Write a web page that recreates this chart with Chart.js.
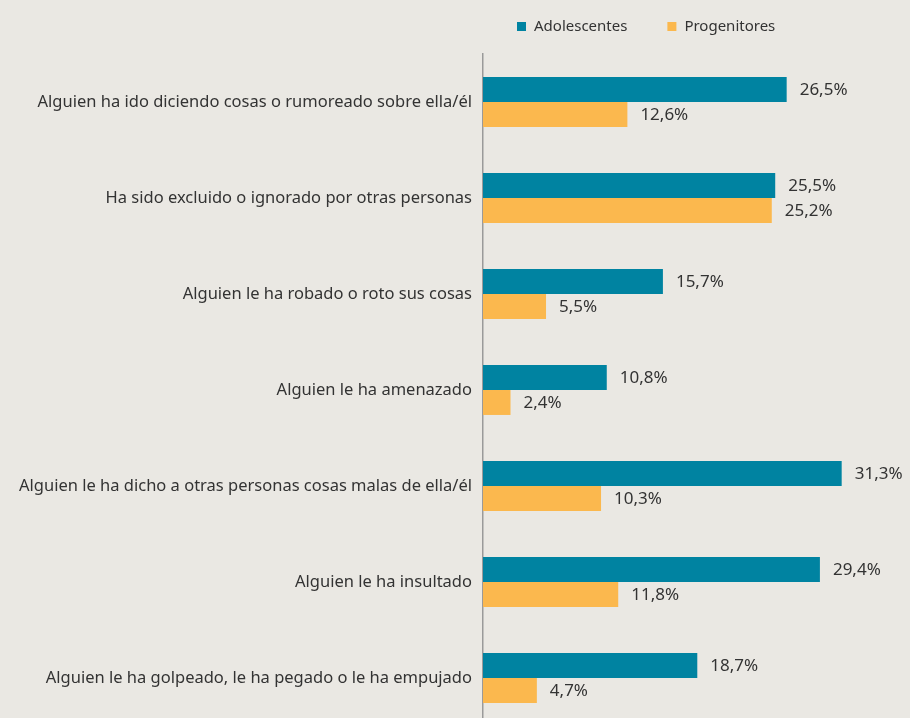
<!DOCTYPE html>
<html>
<head>
<meta charset="utf-8">
<script src="https://cdn.jsdelivr.net/npm/chart.js@4"></script>
<style>
  html, body { margin: 0; padding: 0; background: #eae8e3; overflow: hidden; }
  #wrap { width: 910px; height: 718px; overflow: hidden; }
  #box { position: relative; width: 910px; height: 730px; }
</style>
</head>
<body>
<div id="wrap"><div id="box"><canvas id="chart"></canvas></div></div>
<script>
// categories and series
const categories = [
    "Alguien ha ido diciendo cosas o rumoreado sobre ella/él",
    "Ha sido excluido o ignorado por otras personas",
    "Alguien le ha robado o roto sus cosas",
    "Alguien le ha amenazado",
    "Alguien le ha dicho a otras personas cosas malas de ella/él",
    "Alguien le ha insultado",
    "Alguien le ha golpeado, le ha pegado o le ha empujado"
];
const adolescentes = [26.5, 25.5, 15.7, 10.8, 31.3, 29.4, 18.7];
const progenitores = [12.6, 25.2, 5.5, 2.4, 10.3, 11.8, 4.7];

const fontFamily = "'Noto Sans', 'Open Sans', sans-serif";
const textColor = "#333333";

// value labels at the end of each bar
const valueLabels = {
    id: "valueLabels",
    afterDatasetsDraw(chart) {
        const ctx = chart.ctx;
        ctx.save();
        ctx.font = "17px " + fontFamily;
        ctx.fillStyle = textColor;
        ctx.textAlign = "left";
        ctx.textBaseline = "middle";
        chart.data.datasets.forEach(function (ds, i) {
            chart.getDatasetMeta(i).data.forEach(function (bar, j) {
                const txt = ds.data[j].toFixed(1).replace(".", ",") + "%";
                ctx.fillText(txt, bar.x + 13, bar.y + 1);
            });
        });
        ctx.restore();
    }
};

// simple legend above the bars
const topLegend = {
    id: "topLegend",
    afterDraw(chart) {
        const ctx = chart.ctx;
        ctx.save();
        ctx.font = "15px " + fontFamily;
        ctx.textBaseline = "middle";
        ctx.textAlign = "left";
        let x = 517;
        const y = 26.5;
        chart.data.datasets.forEach(function (ds) {
            ctx.fillStyle = ds.backgroundColor;
            ctx.fillRect(x, y - 4.5, 9, 9);
            ctx.fillStyle = textColor;
            ctx.fillText(ds.label, x + 17, y);
            x += 17 + ctx.measureText(ds.label).width + 40;
        });
        ctx.restore();
    }
};

new Chart(document.getElementById("chart"), {
    type: "bar",
    data: {
        labels: categories,
        datasets: [
            {
                label: "Adolescentes",
                data: adolescentes,
                backgroundColor: "#0083a1",
                categoryPercentage: 0.52,
                barPercentage: 1.0
            },
            {
                label: "Progenitores",
                data: progenitores,
                backgroundColor: "#fbb84e",
                categoryPercentage: 0.52,
                barPercentage: 1.0
            }
        ]
    },
    options: {
        indexAxis: "y",
        responsive: true,
        maintainAspectRatio: false,
        animation: false,
        devicePixelRatio: 1,
        layout: { padding: { top: 54, right: 3, left: 0, bottom: 4 } },
        scales: {
            x: {
                display: false,
                min: 0,
                max: 37
            },
            y: {
                grid: { display: false, drawTicks: false },
                border: { display: true, color: "#9a9a9a", width: 1.5 },
                ticks: {
                    color: textColor,
                    padding: 11,
                    font: { family: fontFamily, size: 16.5 }
                },
                afterFit: function (scale) {
                    scale.width = 483;
                    // labels sit inside the bands, no extra room needed
                    scale.paddingTop = 0;
                    scale.paddingBottom = 0;
                }
            }
        },
        plugins: {
            legend: { display: false },
            tooltip: { enabled: false }
        }
    },
    plugins: [valueLabels, topLegend]
});
</script>
</body>
</html>
